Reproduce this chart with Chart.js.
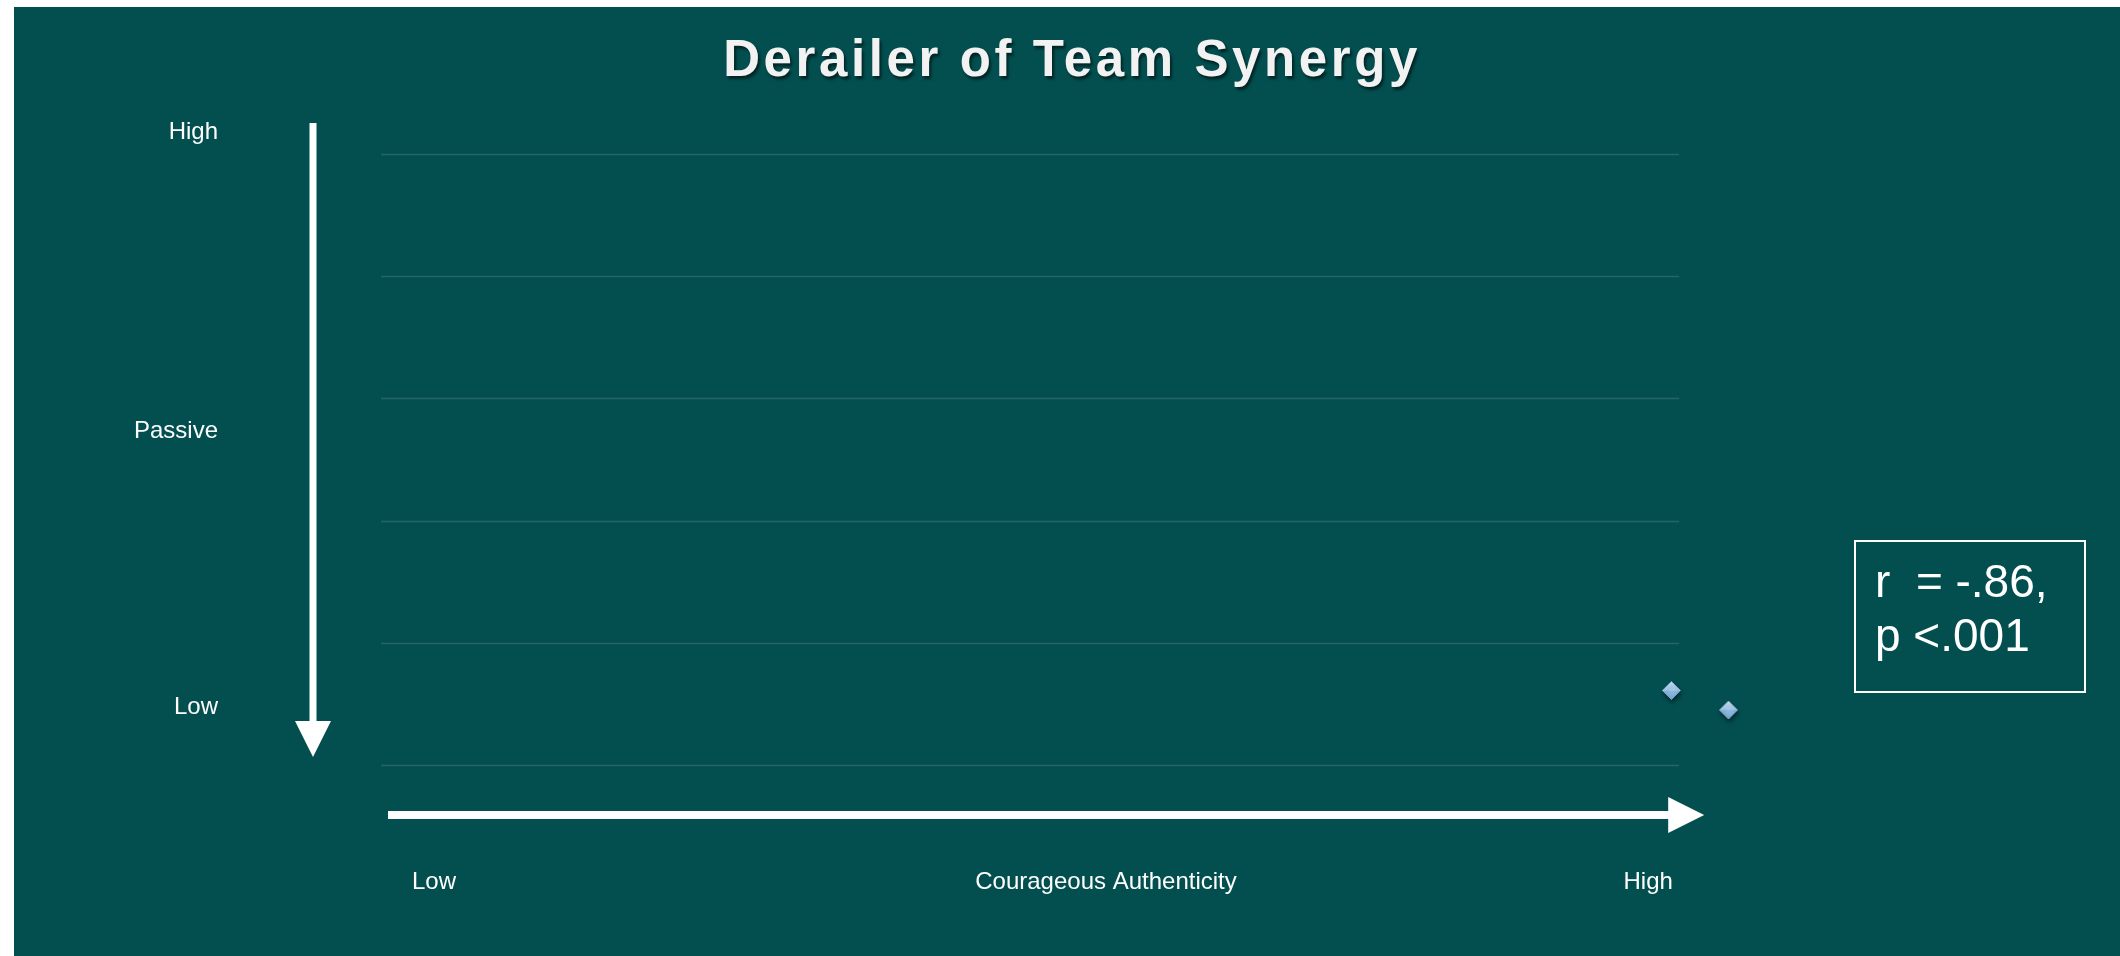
<!DOCTYPE html>
<html>
<head>
<meta charset="utf-8">
<script src="https://cdn.jsdelivr.net/npm/chart.js@4"></script>
<style>
  html, body { margin: 0; padding: 0; background: #ffffff; }
  #wrap { width: 2120px; height: 956px; }
</style>
</head>
<body>
<div id="wrap"><canvas id="my-chart" width="2120" height="956"></canvas></div>
<script>
// chart values
const title = 'Derailer of Team Synergy';
const courageScores = [4.97, 5.19];
const derailerScores = [0.61, 0.45];
const gridValues = [0, 1, 2, 3, 4, 5];
const yAxisLabels = ['High', 'Passive', 'Low'];
const xAxisLabels = ['Low', 'Courageous Authenticity', 'High'];
const statLines = ['r  = -.86,', 'p <.001'];

const teal = '#034f50';
const font = '"Liberation Sans", Arial, sans-serif';

// background, gridlines, arrows, labels and the r box
const decor = {
  id: 'decor',
  beforeDraw(chart) {
    const { ctx, width, height } = chart;
    ctx.save();
    ctx.fillStyle = '#ffffff';
    ctx.fillRect(0, 0, width, height);
    ctx.fillStyle = teal;
    ctx.fillRect(14, 7, width - 14, height - 7);
    ctx.restore();
  },
  beforeDatasetsDraw(chart) {
    // gridlines only span the 0..5 range of the x scale
    const { ctx, scales: { x, y } } = chart;
    const gx0 = x.getPixelForValue(0);
    const gx1 = x.getPixelForValue(5);
    ctx.save();
    ctx.strokeStyle = 'rgba(210,225,228,0.17)';
    ctx.lineWidth = 1.5;
    gridValues.forEach(v => {
      const py = Math.round(y.getPixelForValue(v)) + 0.5;
      ctx.beginPath();
      ctx.moveTo(gx0, py);
      ctx.lineTo(gx1, py);
      ctx.stroke();
    });
    ctx.restore();
  },
  afterDraw(chart) {
    const { ctx, scales: { x, y } } = chart;
    const gx0 = x.getPixelForValue(0);
    const gx1 = x.getPixelForValue(5);
    const gTop = y.getPixelForValue(5);
    const gBot = y.getPixelForValue(0);
    ctx.save();

    // title with shadow
    ctx.font = 'bold 51px ' + font;
    ctx.letterSpacing = '3.6px';
    ctx.textAlign = 'center';
    ctx.textBaseline = 'middle';
    ctx.shadowColor = 'rgba(0,0,0,0.55)';
    ctx.shadowOffsetX = 2;
    ctx.shadowOffsetY = 3;
    ctx.shadowBlur = 3;
    ctx.fillStyle = '#f2f2f2';
    ctx.fillText(title, 1072, 62);
    ctx.shadowColor = 'transparent';
    ctx.letterSpacing = '0px';

    ctx.fillStyle = '#ffffff';
    ctx.strokeStyle = '#ffffff';

    // vertical arrow (down)
    const ax = gx0 - 68;
    ctx.fillRect(ax - 3.5, gTop - 31, 7, gBot - gTop - 10);
    ctx.beginPath();
    ctx.moveTo(ax - 18, gBot - 44);
    ctx.lineTo(ax + 18, gBot - 44);
    ctx.lineTo(ax, gBot - 8);
    ctx.closePath();
    ctx.fill();

    // horizontal arrow (right)
    const ay = gBot + 50;
    ctx.fillRect(gx0 + 7, ay - 4, gx1 - gx0 - 12, 8);
    ctx.beginPath();
    ctx.moveTo(gx1 - 11, ay - 18);
    ctx.lineTo(gx1 + 25, ay);
    ctx.lineTo(gx1 - 11, ay + 18);
    ctx.closePath();
    ctx.fill();

    // y side labels
    ctx.font = '24px ' + font;
    ctx.textAlign = 'right';
    ctx.textBaseline = 'middle';
    const yPos = [gTop - 22, gTop + 277, gBot - 58];
    yAxisLabels.forEach((t, i) => ctx.fillText(t, gx0 - 163, yPos[i]));

    // x side labels
    ctx.textAlign = 'center';
    const xPos = [gx0 + 53, gx0 + 725, gx1 - 31];
    xAxisLabels.forEach((t, i) => ctx.fillText(t, xPos[i], gBot + 117));

    // stats box
    ctx.lineWidth = 2;
    ctx.strokeRect(1855, 541, 230, 151);
    ctx.font = '46px ' + font;
    ctx.textAlign = 'left';
    statLines.forEach((t, i) => ctx.fillText(t, 1875, 584 + i * 54));

    ctx.restore();
  },
  beforeDatasetDraw(chart) {
    const ctx = chart.ctx;
    ctx.save();
    ctx.shadowColor = 'rgba(0,0,0,0.45)';
    ctx.shadowOffsetX = 1;
    ctx.shadowOffsetY = 3;
    ctx.shadowBlur = 4;
  },
  afterDatasetDraw(chart) {
    chart.ctx.restore();
  }
};

// light top, darker bottom, like the bevelled diamonds
const diamondFill = (context) => {
  const chart = context.chart;
  const raw = context.raw;
  const yScale = chart.scales && chart.scales.y;
  if (!raw || !yScale) return '#a9cdee';
  const py = yScale.getPixelForValue(raw.y);
  if (!Number.isFinite(py)) return '#a9cdee';
  const g = chart.ctx.createLinearGradient(0, py - 9, 0, py + 9);
  g.addColorStop(0, '#cfe5f8');
  g.addColorStop(0.5, '#a6cbec');
  g.addColorStop(0.52, '#8fbbe2');
  g.addColorStop(1, '#7aa9d3');
  return g;
};

const ctx = document.getElementById('my-chart').getContext('2d');

const myChart = new Chart(ctx, {
  type: 'scatter',
  data: {
    datasets: [
      {
        data: courageScores.map((x, i) => ({ x, y: derailerScores[i] })),
        pointStyle: 'rectRot',
        pointRadius: 9,
        pointHoverRadius: 9,
        backgroundColor: diamondFill,
        borderColor: '#7fa9d0',
        borderWidth: 1,
        clip: false
      }
    ]
  },
  options: {
    responsive: false,
    animation: false,
    events: [],
    layout: {
      autoPadding: false,
      padding: { left: 381, right: 311, top: 154, bottom: 191 }
    },
    plugins: {
      legend: { display: false },
      title: { display: false },
      tooltip: { enabled: false }
    },
    scales: {
      x: {
        type: 'linear',
        min: 0,
        max: 5.5,
        display: false
      },
      y: {
        type: 'linear',
        min: 0,
        max: 5,
        display: false
      }
    }
  },
  plugins: [decor]
});
</script>
</body>
</html>
